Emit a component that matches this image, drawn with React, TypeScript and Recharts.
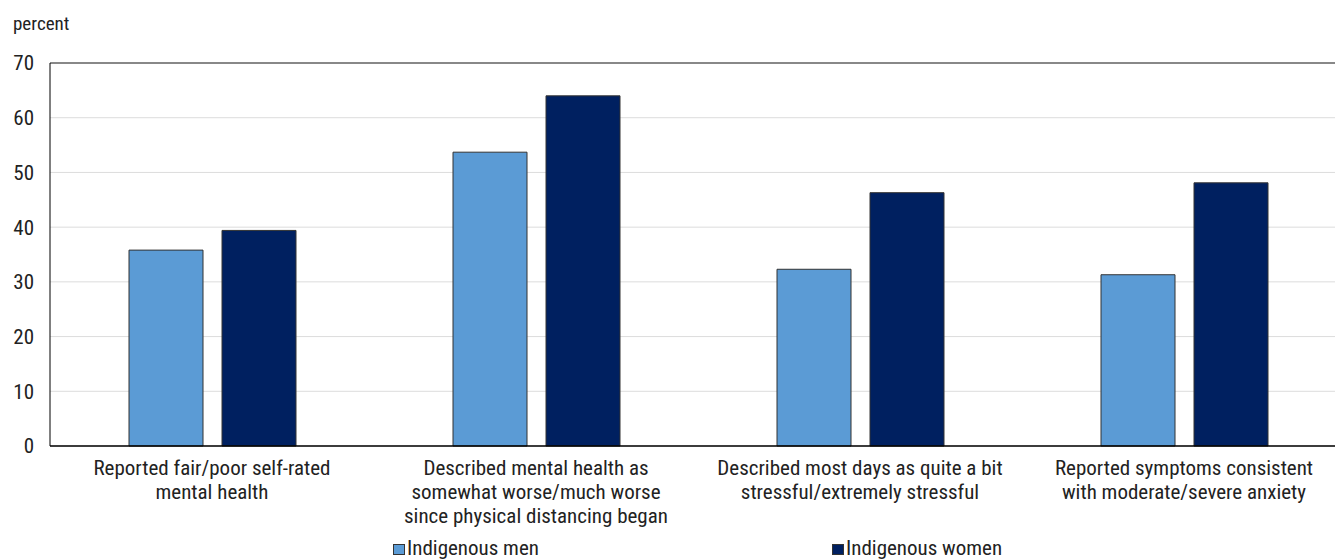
import React from 'react';
import {
  BarChart, Bar, XAxis, YAxis, CartesianGrid, ReferenceLine, Legend,
} from 'recharts';

const FONT = '"Liberation Sans Narrow", "Arial Narrow", "Roboto Condensed", sans-serif';
const TEXT = '#222222';
const MEN = '#5b9bd5';
const WOMEN = '#002060';

// categories (each line of the label as its own entry)
const categories = [
  ['Reported fair/poor self-rated', 'mental health'],
  ['Described mental health as', 'somewhat worse/much worse', 'since physical distancing began'],
  ['Described most days as quite a bit', 'stressful/extremely stressful'],
  ['Reported symptoms consistent', 'with moderate/severe anxiety'],
];
const menValues = [35.8, 53.7, 32.3, 31.3];
const womenValues = [39.4, 64.0, 46.3, 48.1];
const yTicks = [0, 10, 20, 30, 40, 50, 60, 70];

const data = categories.map((c, i) => ({
  key: c.join(' '),
  lines: c,
  men: menValues[i],
  women: womenValues[i],
}));

function CategoryTick({ x, y, payload }: any) {
  const lines: string[] = data.find(d => d.key === payload.value)?.lines ?? [];
  return (
    <text x={x} y={y} textAnchor="middle" fill={TEXT} fontSize={21} fontFamily={FONT}>
      {lines.map((l, i) => (
        <tspan key={i} x={x} dy={i === 0 ? 21 : 24}>{l}</tspan>
      ))}
    </text>
  );
}

function ChartLegend() {
  const items = [
    { label: 'Indigenous men', color: MEN, left: 393 },
    { label: 'Indigenous women', color: WOMEN, left: 832 },
  ];
  return (
    <div style={{ position: 'relative', height: 24 }}>
      {items.map(it => (
        <div
          key={it.label}
          style={{
            position: 'absolute', left: it.left, top: 0, display: 'flex', alignItems: 'center',
            fontFamily: FONT, fontSize: 21, color: TEXT, lineHeight: '24px', whiteSpace: 'nowrap',
          }}
        >
          <span style={{
            display: 'inline-block', width: 10, height: 9, background: it.color,
            border: '1px solid #333', marginRight: 2, marginTop: 2,
          }} />
          {it.label}
        </div>
      ))}
    </div>
  );
}

export default function App() {
  return (
    <div style={{ position: 'absolute', left: 0, top: 0, width: 1335, height: 560, background: '#fff', overflow: 'hidden' }}>
      <div style={{
        position: 'absolute', left: 13, top: 13, fontFamily: FONT, fontSize: 19, color: TEXT,
        lineHeight: '22px',
      }}>
        percent
      </div>
      <BarChart
        width={1346}
        height={560}
        data={data}
        margin={{ top: 63, right: 0, bottom: 0, left: 0 }}
        barCategoryGap={79}
        barGap={19}
      >
        <CartesianGrid vertical={false} stroke="#dcdcdc" strokeWidth={1} />
        <XAxis
          dataKey="key"
          interval={0}
          tick={<CategoryTick />}
          tickLine={false}
          axisLine={{ stroke: '#000', strokeWidth: 1.5 }}
          height={90}
        />
        <YAxis
          domain={[0, 70]}
          ticks={yTicks}
          width={50}
          tickSize={0}
          tickMargin={16}
          tickLine={false}
          axisLine={{ stroke: '#000', strokeWidth: 1 }}
          tick={{ fill: TEXT, fontSize: 21, fontFamily: FONT }}
        />
        <ReferenceLine y={70} stroke="#666" strokeWidth={1.5} />
        <Legend verticalAlign="bottom" content={<ChartLegend />} wrapperStyle={{ bottom: 0, left: 0, width: 1335 }} />
        <Bar dataKey="men" name="Indigenous men" fill={MEN} stroke="#333" strokeWidth={1} isAnimationActive={false} />
        <Bar dataKey="women" name="Indigenous women" fill={WOMEN} stroke="#333" strokeWidth={1} isAnimationActive={false} />
      </BarChart>
    </div>
  );
}
